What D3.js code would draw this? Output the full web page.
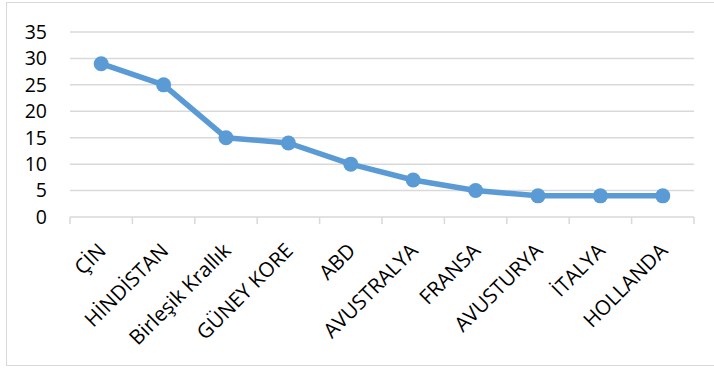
<!DOCTYPE html>
<html lang="tr">
<head>
<meta charset="UTF-8">
<script src="https://d3js.org/d3.v7.min.js"></script>
<style>
  body { margin: 0; background: #fff; }
  text { font-family: "Open Sans", sans-serif; fill: #000; }
</style>
</head>
<body>
<script>

var countries = ["ÇİN", "HİNDİSTAN", "Birleşik Krallık", "GÜNEY KORE", "ABD",
                 "AVUSTRALYA", "FRANSA", "AVUSTURYA", "İTALYA", "HOLLANDA"];
var values = [29, 25, 15, 14, 10, 7, 5, 4, 4, 4];
var yTicks = [0, 5, 10, 15, 20, 25, 30, 35];

var width = 714,
    height = 370;

var svg = d3.select("body").append("svg")
    .attr("width", width)
    .attr("height", height);

// chart frame
svg.append("rect")
    .attr("x", 6.5).attr("y", 2.5)
    .attr("width", 720).attr("height", 363)
    .attr("fill", "none")
    .attr("stroke", "#d9d9d9");

var x = d3.scaleBand().domain(countries).range([70, 694]);
var y = d3.scaleLinear().domain([0, 35]).range([217, 32]);

// gridlines
svg.selectAll("line.grid")
    .data(yTicks.filter(function(d) { return d > 0; }))
  .enter().append("line")
    .attr("class", "grid")
    .attr("x1", 70).attr("x2", 694)
    .attr("y1", function(d) { return y(d); })
    .attr("y2", function(d) { return y(d); })
    .attr("stroke", "#d9d9d9")
    .attr("stroke-width", 1.5);

// y labels
svg.selectAll("text.ylab")
    .data(yTicks)
  .enter().append("text")
    .attr("class", "ylab")
    .attr("x", 47)
    .attr("y", function(d) { return y(d); })
    .attr("dy", "0.35em")
    .attr("text-anchor", "end")
    .style("font-size", "19.5px")
    .text(function(d) { return d; });

// x axis line + ticks
svg.append("line")
    .attr("x1", 70).attr("x2", 694)
    .attr("y1", 217).attr("y2", 217)
    .attr("stroke", "#d9d9d9")
    .attr("stroke-width", 1.5);

var bounds = countries.map(function(c) { return x(c); }).concat([694]);
svg.selectAll("line.tick")
    .data(bounds)
  .enter().append("line")
    .attr("class", "tick")
    .attr("x1", function(d) { return d; })
    .attr("x2", function(d) { return d; })
    .attr("y1", 217).attr("y2", 224)
    .attr("stroke", "#d9d9d9")
    .attr("stroke-width", 1.5);

// category labels, rotated
svg.selectAll("text.xlab")
    .data(countries)
  .enter().append("text")
    .attr("class", "xlab")
    .attr("text-anchor", "end")
    .style("font-size", "20.5px")
    .attr("transform", function(d) {
      var cx = x(d) + x.bandwidth() / 2 + 6;
      return "translate(" + cx + ",252) rotate(-45)";
    })
    .text(function(d) { return d; });

var cxOf = function(d, i) { return x(countries[i]) + x.bandwidth() / 2; };

var line = d3.line()
    .x(cxOf)
    .y(function(d) { return y(d); });

svg.append("path")
    .datum(values)
    .attr("d", line)
    .attr("fill", "none")
    .attr("stroke", "#5b9bd5")
    .attr("stroke-width", 5.5)
    .attr("stroke-linejoin", "round");

svg.selectAll("circle")
    .data(values)
  .enter().append("circle")
    .attr("cx", cxOf)
    .attr("cy", function(d) { return y(d); })
    .attr("r", 7.5)
    .attr("fill", "#5b9bd5");

</script>
</body>
</html>
